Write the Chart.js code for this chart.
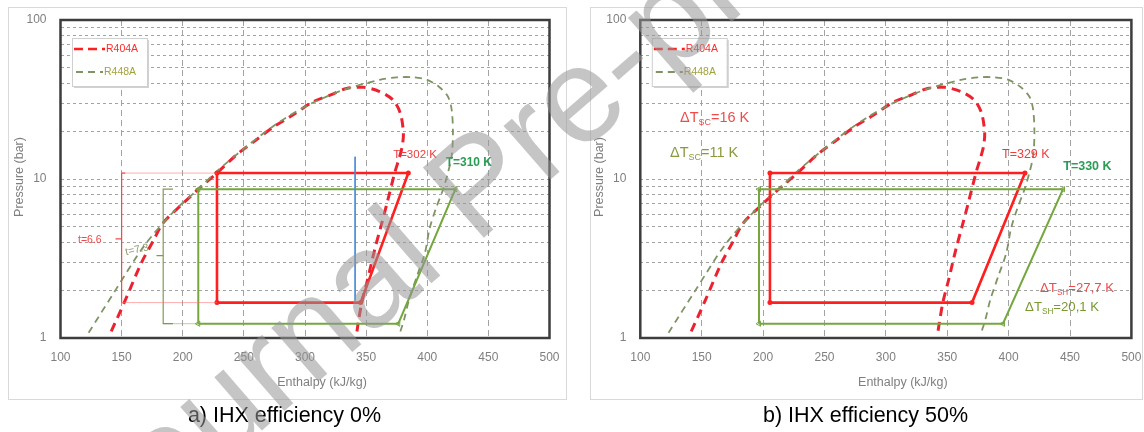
<!DOCTYPE html>
<html>
<head>
<meta charset="utf-8">
<title>IHX efficiency - log p-h</title>
<script src="https://cdn.jsdelivr.net/npm/chart.js@4.4.1/dist/chart.umd.min.js"></script>
<style>
  html, body { margin: 0; padding: 0; background: #fff; }
  #page { position: relative; width: 1144px; height: 432px; overflow: hidden; }
  .panel { position: absolute; top: 7px; height: 393px; box-shadow: inset 0 0 0 1px #d9d9d9; }
  #panelA { left: 8px; width: 559px; }
  #panelB { left: 590px; width: 553px; }
  .panel canvas { position: absolute; left: 0; top: 0; }
  #overlay { position: absolute; left: 0; top: 0; pointer-events: none; }
</style>
</head>
<body>
<div id="page">
  <div class="panel" id="panelA"><canvas id="chartA" width="559" height="393"></canvas></div>
  <div class="panel" id="panelB"><canvas id="chartB" width="553" height="393"></canvas></div>
  <canvas id="overlay" width="1144" height="432"></canvas>
</div>
<script>
const FONT = '"Liberation Sans", Arial, sans-serif';
const RED = '#ff1f1f';
const GREEN = '#74a83f';
const GREEN_DOME = '#7e9462';
const GRID = '#a3a3a3';

// axes
const hTicks = [100, 150, 200, 250, 300, 350, 400, 450, 500];
const pTicks = [1, 2, 3, 4, 5, 6, 7, 8, 9, 10, 20, 30, 40, 50, 60, 70, 80, 90, 100];
const pLabels = [1, 10, 100];

// saturation domes, enthalpy (kJ/kg) / pressure (bar)
const r404aDomeH = [141.5, 153, 166, 176, 184, 200, 214, 228, 244, 260, 274, 288, 307, 321, 334, 348, 361, 372, 378, 380.5,
  379.5, 377, 373.5, 367, 362, 357, 351, 346.5, 343.5, 342.5];
const r404aDomeP = [1.1, 1.73, 2.95, 4.1, 5.3, 7.0, 8.8, 10.9, 14.2, 17.6, 21.2, 24.7, 30.7, 33.8, 37.1, 37.7, 35.5, 31.4, 25.9, 19.4,
  16.0, 13.5, 11.0, 7.0, 5.0, 3.6, 2.3, 1.68, 1.24, 1.1];
const r448aDomeH = [123, 145, 169, 194, 212.7, 228, 250, 274, 300, 330, 361, 375, 389, 400, 410, 417, 420, 421, 420, 417,
  413, 407, 402, 398, 392, 385, 381, 378];
const r448aDomeP = [1.08, 2.0, 3.85, 6.4, 8.63, 11.2, 15.5, 21.5, 28.5, 36, 42, 43.6, 43.6, 42, 37.8, 32.9, 27.2, 19.4, 14, 11,
  8.63, 6.5, 4.9, 3.4, 2.5, 1.73, 1.3, 1.1];

// cycles: valve outlet -> valve inlet -> compressor outlet -> compressor inlet -> back
const r404aCycleP = [1.67, 10.9, 10.9, 1.67, 1.67];
const r448aCycleP = [1.23, 8.63, 8.63, 1.23, 1.23];
const r404aCycleA_H = [228, 228, 384.5, 345.5, 228];
const r448aCycleA_H = [212.7, 212.7, 423, 376.3, 212.7];
const r404aCycleB_H = [205.6, 205.6, 413.3, 370.2, 205.6];
const r448aCycleB_H = [196.7, 196.7, 444.3, 395.4, 196.7];

// brackets and guide lines on panel a
const bracketRedH = [153, 150, 150, 145, 150, 150];
const bracketRedP = [10.9, 10.9, 4.2, 4.2, 4.2, 1.67];
const bracketGreenH = [192, 184, 184, 178.5, 184, 184, 192];
const bracketGreenP = [8.63, 8.63, 3.3, 3.3, 3.3, 1.23, 1.23];
const guideRedH = [150, 228];
const guideGreenH = [184, 212.7];
const blueLineH = [341, 341];
const blueLineP = [13.8, 1.72];

const notesA = [
  { parts: [['T=302 K']], h: 390, p: 14.2, color: '#f03c3c', size: 11.5, align: 'center' },
  { parts: [['T=310 K']], h: 434, p: 12.6, color: '#2a9d55', size: 12, bold: true, align: 'center' },
  { parts: [['t=6.6']], h: 124, p: 4.14, color: '#f04848', size: 10.5, align: 'center' },
  { parts: [['t=7.3']], h: 162.6, p: 3.58, color: '#8c9a6c', size: 10.5, align: 'center', rot: -12 }
];
const notesB = [
  { parts: [['ΔT'], ['SC', 1], ['=16 K']], h: 132.3, p: 24.2, color: '#f04a4a', size: 14.5 },
  { parts: [['ΔT'], ['SC', 1], ['=11 K']], h: 124.2, p: 14.6, color: '#8a9a3a', size: 14.5 },
  { parts: [['T=329 K']], h: 394.6, p: 14.2, color: '#f03c3c', size: 12.5 },
  { parts: [['T=330 K']], h: 444.5, p: 11.9, color: '#2a9d55', size: 12.5, bold: true },
  { parts: [['ΔT'], ['SH', 1], ['=27,7 K']], h: 425.6, p: 2.06, color: '#f04a4a', size: 13.2 },
  { parts: [['ΔT'], ['SH', 1], ['=20,1 K']], h: 413.4, p: 1.566, color: '#7a9a30', size: 13.2 }
];

const pts = (hs, ps) => hs.map((h, i) => ({ x: h, y: ps[i] }));

function lineSet(hs, ps, color, width, dash, extra) {
  return Object.assign({
    data: pts(hs, ps),
    borderColor: color,
    backgroundColor: color,
    borderWidth: width,
    borderDash: dash || [],
    pointRadius: 0,
    tension: 0,
    fill: false
  }, extra || {});
}

const fontStr = (size, bold) => (bold ? 'bold ' : '') + size + 'px ' + FONT;

function drawNote(ctx, chart, n) {
  const x = chart.scales.x.getPixelForValue(n.h);
  const y = chart.scales.y.getPixelForValue(n.p);
  ctx.save();
  ctx.translate(x, y);
  if (n.rot) ctx.rotate(n.rot * Math.PI / 180);
  ctx.fillStyle = n.color;
  ctx.textBaseline = 'middle';
  ctx.textAlign = 'left';
  let w = 0;
  n.parts.forEach(([t, sub]) => {
    ctx.font = fontStr(sub ? n.size * 0.62 : n.size, n.bold);
    w += ctx.measureText(t).width;
  });
  let cx = n.align === 'center' ? -w / 2 : 0;
  n.parts.forEach(([t, sub]) => {
    ctx.font = fontStr(sub ? n.size * 0.62 : n.size, n.bold);
    ctx.fillText(t, cx, sub ? n.size * 0.32 : 0);
    cx += ctx.measureText(t).width;
  });
  ctx.restore();
}

function drawLegend(ctx, area) {
  const bx = area.left + 11.5, by = area.top + 18, bw = 75, bh = 48;
  ctx.save();
  ctx.fillStyle = 'rgba(0,0,0,0.18)';
  ctx.fillRect(bx + 2, by + 2, bw, bh);
  ctx.fillStyle = '#fff';
  ctx.fillRect(bx, by, bw, bh);
  ctx.strokeStyle = '#cfcfcf';
  ctx.lineWidth = 1;
  ctx.strokeRect(bx + 0.5, by + 0.5, bw, bh);
  const rows = [
    { label: 'R404A', color: RED, text: '#ff2a2a', width: 2.5, dash: [9, 5], y: 11, x0: 2, x1: 33 },
    { label: 'R448A', color: GREEN_DOME, text: '#a3a33a', width: 1.8, dash: [7, 5], y: 34, x0: 4, x1: 31 }
  ];
  rows.forEach(r => {
    ctx.beginPath();
    ctx.setLineDash(r.dash);
    ctx.strokeStyle = r.color;
    ctx.lineWidth = r.width;
    ctx.moveTo(bx + r.x0, by + r.y);
    ctx.lineTo(bx + r.x1, by + r.y);
    ctx.stroke();
    ctx.setLineDash([]);
    ctx.fillStyle = r.text;
    ctx.font = fontStr(10.5);
    ctx.textBaseline = 'middle';
    ctx.fillText(r.label, bx + r.x1 + 1, by + r.y);
  });
  ctx.restore();
}

// keep tick labels from pushing the plot area in
function noPad(s) {
  s.paddingTop = 0; s.paddingBottom = 0; s.paddingLeft = 0; s.paddingRight = 0;
}

function makeChart(id, yWidth, padRight, datasets, notes) {
  const decor = {
    id: 'decor',
    afterDraw(chart) {
      const { ctx, chartArea: a } = chart;
      ctx.save();
      ctx.strokeStyle = '#3d3d3d';
      ctx.lineWidth = 2.5;
      ctx.strokeRect(a.left, a.top, a.right - a.left, a.bottom - a.top);
      ctx.restore();
      drawLegend(ctx, a);
      notes.forEach(n => drawNote(ctx, chart, n));
      ctx.save();
      ctx.fillStyle = '#7f7f7f';
      ctx.font = fontStr(12.5);
      ctx.textAlign = 'center';
      ctx.textBaseline = 'middle';
      ctx.fillText('Enthalpy (kJ/kg)', (a.left + a.right) / 2 + 17, a.bottom + 45);
      ctx.translate(a.left - 40.5, (a.top + a.bottom) / 2 - 2);
      ctx.rotate(-Math.PI / 2);
      ctx.fillText('Pressure (bar)', 0, 0);
      ctx.restore();
    }
  };
  return new Chart(document.getElementById(id), {
    type: 'line',
    data: { datasets },
    plugins: [decor],
    options: {
      responsive: false,
      animation: false,
      events: [],
      layout: { padding: { left: 0, top: 13, right: padRight, bottom: 0 } },
      plugins: { legend: { display: false }, tooltip: { enabled: false } },
      scales: {
        x: {
          type: 'linear', min: 100, max: 500,
          afterBuildTicks: s => { s.ticks = hTicks.map(v => ({ value: v })); },
          afterFit: s => { s.height = 62; noPad(s); },
          ticks: { color: '#7f7f7f', font: { family: FONT, size: 12 }, padding: 12, maxRotation: 0, autoSkip: false },
          grid: { color: GRID, lineWidth: 1, drawTicks: false },
          border: { display: false, dash: [6, 4] }
        },
        y: {
          type: 'logarithmic', min: 1, max: 100,
          afterBuildTicks: s => { s.ticks = pTicks.map(v => ({ value: v })); },
          afterFit: s => { s.width = yWidth; noPad(s); },
          ticks: {
            color: '#7f7f7f', font: { family: FONT, size: 12 }, padding: 14, autoSkip: false,
            callback: v => pLabels.includes(v) ? String(v) : ''
          },
          grid: { color: GRID, lineWidth: 1, drawTicks: false },
          border: { display: false, dash: [3, 3] }
        }
      }
    }
  });
}

const redMarks = { pointRadius: [2.5, 2.5, 2.5, 2.5, 0], pointBorderWidth: 0 };
const greenMarks = { pointRadius: [3, 3, 3, 3, 0], pointStyle: 'triangle', rotation: -90,
  pointBackgroundColor: 'rgba(0,0,0,0)', pointBorderColor: GREEN, pointBorderWidth: 1 };

makeChart('chartA', 52.5, 17.5, [
  lineSet(guideRedH, [10.9, 10.9], 'rgba(255,110,110,0.55)', 1),
  lineSet(guideRedH, [1.67, 1.67], 'rgba(255,110,110,0.55)', 1),
  lineSet(guideGreenH, [1.23, 1.23], 'rgba(120,160,70,0.5)', 1),
  lineSet(bracketRedH, bracketRedP, '#f04a4a', 1.2),
  lineSet(bracketGreenH, bracketGreenP, '#7f9a55', 1.2),
  lineSet(blueLineH, blueLineP, '#4a8fd8', 1),
  lineSet(r448aCycleA_H, r448aCycleP, GREEN, 2, [], greenMarks),
  lineSet(r404aCycleA_H, r404aCycleP, RED, 2.6, [], redMarks),
  lineSet(r448aDomeH, r448aDomeP, GREEN_DOME, 1.8, [7, 5], { tension: 0.3 }),
  lineSet(r404aDomeH, r404aDomeP, '#ec2230', 3, [9, 6], { tension: 0.3 })
], notesA);

makeChart('chartB', 50.3, 11.6, [
  lineSet(r448aCycleB_H, r448aCycleP, GREEN, 2, [], greenMarks),
  lineSet(r404aCycleB_H, r404aCycleP, RED, 2.6, [], redMarks),
  lineSet(r448aDomeH, r448aDomeP, GREEN_DOME, 1.8, [7, 5], { tension: 0.3 }),
  lineSet(r404aDomeH, r404aDomeP, '#ec2230', 3, [9, 6], { tension: 0.3 })
], notesB);

// captions and the journal watermark
const oc = document.getElementById('overlay').getContext('2d');
oc.fillStyle = '#000';
oc.font = '21.5px ' + FONT;
oc.textAlign = 'center';
oc.textBaseline = 'alphabetic';
oc.fillText('a) IHX efficiency 0%', 284.5, 422);
oc.fillText('b) IHX efficiency 50%', 865.5, 422);

oc.save();
oc.translate(113, 560);
oc.rotate(-41 * Math.PI / 180);
oc.font = '135px ' + FONT;
oc.fillStyle = 'rgba(150,150,150,0.55)';
oc.textAlign = 'left';
oc.fillText('Journal Pre-proof', 0, 0);
oc.restore();
</script>
</body>
</html>
